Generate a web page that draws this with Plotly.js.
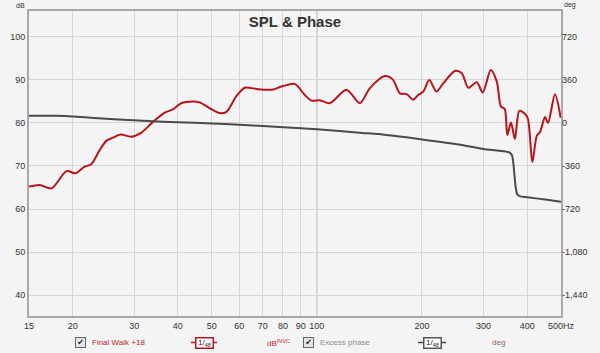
<!DOCTYPE html>
<html>
<head>
<meta charset="utf-8">
<script src="https://cdn.plot.ly/plotly-3.0.1.min.js"></script>
<style>
  html, body { margin: 0; padding: 0; background: #f4f4f4; }
  #chart { width: 600px; height: 353px; }
</style>
</head>
<body>
<div id="chart"></div>
<script>
// ---- data ----
const splFreq = [15, 16.1, 17.4, 19.2, 20.4, 21.6, 22.6, 23.9, 25.0, 26.1, 27.5, 29.4, 31.4, 33.9, 36.7, 38.8, 40.9, 44.2, 46.2, 49.4, 52.7, 55.1, 58.9, 62.2, 67.2, 71.8, 75.1, 80.1, 86.5, 92.4, 96.6, 102, 109, 121.6, 132.8, 141.9, 156.6, 164.7, 172.9, 180.8, 188.8, 195, 201.7, 209.9, 220, 230, 248.5, 259.8, 271.4, 286.8, 298.5, 314.7, 327.5, 336.7, 345, 351, 359.5, 369, 380, 391.9, 401.6, 414, 426.2, 435.5, 450, 459, 480.6, 499];
const splDB = [65.2, 65.6, 64.8, 68.8, 68.3, 69.8, 70.4, 73.7, 75.9, 76.6, 77.3, 76.8, 77.7, 80.2, 82.4, 83.2, 84.6, 85.0, 84.8, 83.4, 82.3, 82.6, 86.3, 88.2, 87.9, 87.7, 87.8, 88.6, 89.1, 86.5, 85.2, 85.3, 84.6, 87.7, 84.6, 88.1, 90.9, 90.2, 86.9, 86.7, 85.4, 86.5, 87.3, 90.0, 87.3, 89.2, 92.1, 91.6, 88.2, 89.5, 87.1, 92.3, 89.6, 83.8, 83.3, 77.2, 80.1, 76.3, 82.8, 82.3, 81.1, 70.9, 77.0, 77.9, 81.4, 80.0, 86.7, 81.2];

const phaseFreq = [15, 18, 20, 23, 27, 33, 40, 50, 60, 72, 85, 100, 135, 150, 200, 255, 300, 355, 362, 365, 368, 371, 375, 382, 400, 450, 500];
const phaseDeg = [61, 60, 55, 42, 30, 17, 6, -4, -15, -28, -40, -53, -83, -93, -138, -180, -218, -245, -270, -330, -440, -540, -600, -614, -622, -640, -659];

const xTickVals = [15, 20, 30, 40, 50, 60, 70, 80, 90, 100, 200, 300, 400, 500];
const xTickText = ['15', '20', '30', '40', '50', '60', '70', '80', '90', '100', '200', '300', '400', '500Hz'];
const yTickVals = [40, 50, 60, 70, 80, 90, 100];
const y2TickVals = [-1440, -1080, -720, -360, 0, 360, 720];
const y2TickText = ['-1,440', '-1,080', '-720', '-360', '0', '360', '720'];

const seriesNames = ['Final Walk +18', 'Excess phase'];
const unitNames = ['dB<sup style="font-size:6px">INVC</sup>', 'deg'];

// ---- geometry helpers (pixel -> paper) ----
const W = 600, H = 353;
const M = {l: 29, r: 39, t: 11, b: 37};
const PW = W - M.l - M.r, PH = H - M.t - M.b;
const px = x => (x - M.l) / PW;
const py = y => (H - M.b - y) / PH;

const red = '#b8141c';
const dark = '#4a4a4a';

const traces = [
  {
    x: splFreq, y: splDB, type: 'scatter', mode: 'lines', name: seriesNames[0],
    line: {color: red, width: 2, shape: 'spline', smoothing: 0.8},
    xaxis: 'x', yaxis: 'y', hoverinfo: 'skip'
  },
  {
    x: phaseFreq, y: phaseDeg, type: 'scatter', mode: 'lines', name: seriesNames[1],
    line: {color: dark, width: 2, shape: 'spline', smoothing: 0.6},
    xaxis: 'x', yaxis: 'y2', hoverinfo: 'skip'
  }
];

const tickFont = {family: 'Liberation Sans, Arial, sans-serif', size: 9, color: '#333'};
const yRange = [35.12, 106.04];
const y2Range = [(yRange[0] - 80) * 36, (yRange[1] - 80) * 36];

const annotations = [
  {xref: 'paper', yref: 'paper', x: px(20), y: py(5), text: 'dB', showarrow: false,
   font: {family: 'Liberation Sans, Arial', size: 7, color: '#333'}, xanchor: 'center', yanchor: 'middle'},
  {xref: 'paper', yref: 'paper', x: px(570), y: py(5), text: 'deg', showarrow: false,
   font: {family: 'Liberation Sans, Arial', size: 7, color: '#333'}, xanchor: 'center', yanchor: 'middle'},
  // legend row
  {xref: 'paper', yref: 'paper', x: px(80), y: py(342.5), text: '✔', showarrow: false,
   font: {family: 'DejaVu Sans', size: 8, color: '#222'}, bgcolor: '#e4e4e4', bordercolor: '#666', borderwidth: 1,
   width: 9, height: 9, borderpad: 0, xanchor: 'center', yanchor: 'middle'},
  {xref: 'paper', yref: 'paper', x: px(90), y: py(342.5), text: seriesNames[0], showarrow: false,
   font: {family: 'Liberation Sans, Arial', size: 8, color: '#c02828'}, xanchor: 'left', yanchor: 'middle'},
  {xref: 'paper', yref: 'paper', x: px(204), y: py(342.5), text: '1/<sub>48</sub>', showarrow: false,
   font: {family: 'Liberation Sans, Arial', size: 8, color: '#222'}, bgcolor: '#ffffff', bordercolor: '#b8141c', borderwidth: 1.5,
   width: 16, height: 9, borderpad: 0, xanchor: 'center', yanchor: 'middle'},
  {xref: 'paper', yref: 'paper', x: px(265), y: py(342.5), text: unitNames[0], showarrow: false,
   font: {family: 'Liberation Sans, Arial', size: 8, color: '#c02828'}, xanchor: 'left', yanchor: 'middle'},
  {xref: 'paper', yref: 'paper', x: px(308), y: py(342.5), text: '✔', showarrow: false,
   font: {family: 'DejaVu Sans', size: 8, color: '#222'}, bgcolor: '#e4e4e4', bordercolor: '#666', borderwidth: 1,
   width: 9, height: 9, borderpad: 0, xanchor: 'center', yanchor: 'middle'},
  {xref: 'paper', yref: 'paper', x: px(318), y: py(342.5), text: seriesNames[1], showarrow: false,
   font: {family: 'Liberation Sans, Arial', size: 8, color: '#8a8a8a'}, xanchor: 'left', yanchor: 'middle'},
  {xref: 'paper', yref: 'paper', x: px(432), y: py(342.5), text: '1/<sub>48</sub>', showarrow: false,
   font: {family: 'Liberation Sans, Arial', size: 8, color: '#222'}, bgcolor: '#ffffff', bordercolor: '#555', borderwidth: 1.5,
   width: 16, height: 9, borderpad: 0, xanchor: 'center', yanchor: 'middle'},
  {xref: 'paper', yref: 'paper', x: px(490), y: py(342.5), text: unitNames[1], showarrow: false,
   font: {family: 'Liberation Sans, Arial', size: 8, color: '#8a6a5a'}, xanchor: 'left', yanchor: 'middle'}
];

const shapes = [
  // darker 100 Hz grid line
  {type: 'line', xref: 'x', yref: 'paper', x0: 100, x1: 100, y0: 0, y1: 1,
   line: {color: '#9a9a9a', width: 1}, layer: 'below'},
  // dashes around the smoothing icons
  {type: 'line', xref: 'paper', yref: 'paper', x0: px(191), x1: px(196), y0: py(342.5), y1: py(342.5), line: {color: red, width: 1.5}},
  {type: 'line', xref: 'paper', yref: 'paper', x0: px(212), x1: px(217), y0: py(342.5), y1: py(342.5), line: {color: red, width: 1.5}},
  {type: 'line', xref: 'paper', yref: 'paper', x0: px(418), x1: px(424), y0: py(342.5), y1: py(342.5), line: {color: '#444', width: 1.5}},
  {type: 'line', xref: 'paper', yref: 'paper', x0: px(440), x1: px(446), y0: py(342.5), y1: py(342.5), line: {color: '#444', width: 1.5}}
];

const layout = {
  width: W, height: H,
  margin: M,
  paper_bgcolor: '#f4f4f4',
  plot_bgcolor: '#f4f4f4',
  showlegend: false,
  title: {
    text: '<b>SPL & Phase</b>',
    font: {family: 'Liberation Sans, Arial, sans-serif', size: 15, color: '#333'},
    x: 0.5, xref: 'paper', xanchor: 'center',
    y: py(22), yref: 'paper', yanchor: 'middle'
  },
  xaxis: {
    type: 'log', range: [Math.log10(15), Math.log10(500)],
    tickvals: xTickVals, ticktext: xTickText, tickfont: tickFont,
    showgrid: true, gridcolor: '#d6d6d6', gridwidth: 1,
    showline: true, linecolor: '#a9a9a9', linewidth: 2, mirror: true,
    ticks: '', zeroline: false
  },
  yaxis: {
    range: yRange, tickvals: yTickVals, tickfont: tickFont,
    showgrid: true, gridcolor: '#d6d6d6', gridwidth: 1,
    showline: true, linecolor: '#a9a9a9', linewidth: 2, mirror: true,
    ticks: '', zeroline: false
  },
  yaxis2: {
    range: y2Range, tickvals: y2TickVals, ticktext: y2TickText, tickfont: tickFont,
    overlaying: 'y', side: 'right', showgrid: false, zeroline: false,
    showline: false, ticks: ''
  },
  annotations: annotations,
  shapes: shapes
};

Plotly.newPlot('chart', traces, layout, {displayModeBar: false, staticPlot: true});
</script>
</body>
</html>
